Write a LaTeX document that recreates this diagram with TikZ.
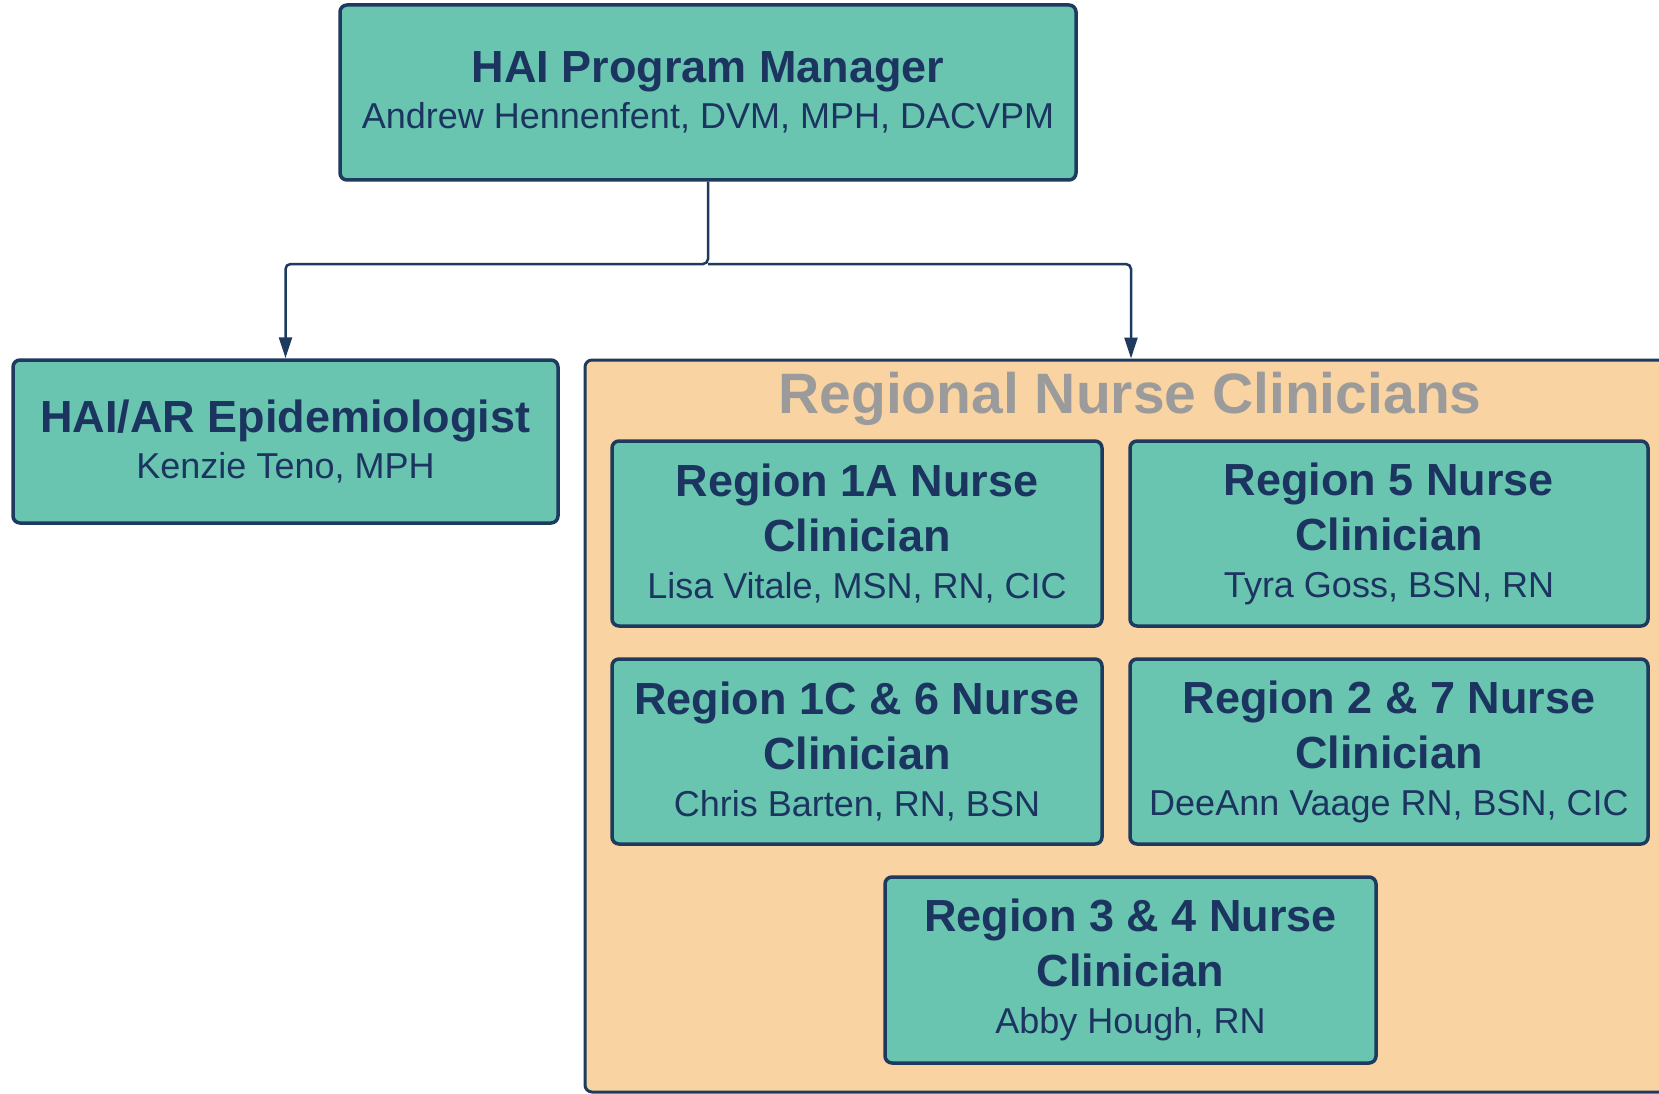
\documentclass[tikz,border=0pt]{standalone}
\usepackage{fontspec}
\setmainfont{Liberation Sans}
\usetikzlibrary{arrows.meta,positioning}

\definecolor{cardfill}{HTML}{69C5B0}
\definecolor{panelfill}{HTML}{F9D4A2}
\definecolor{edge}{HTML}{1E3A5F}
\definecolor{ink}{HTML}{1C3560}
\definecolor{titlegray}{HTML}{9B9B9B}

\tikzset{
  card/.style={draw=edge, fill=cardfill, line width=3.5pt, rounded corners=7pt,
    align=center, text=ink, inner sep=0pt, font=\fontsize{45}{55}\selectfont\bfseries},
  panel/.style={draw=edge, fill=panelfill, line width=3pt, rounded corners=7pt, inner sep=0pt},
  link/.style={draw=edge, line width=2.5pt, rounded corners=5pt,
    -{Triangle[length=21pt,width=13pt]}}
}
\newcommand{\who}[1]{{\fontsize{36}{44}\selectfont\mdseries #1}}

\begin{document}
\begin{tikzpicture}[x=1pt,y=-1pt]
  \useasboundingbox (0,0) rectangle (1659,1094);
  \clip (0,0) rectangle (1659,1094);
  \fill[white] (0,0) rectangle (1659,1094);

  % top and left
  \node[card, minimum width=736pt, minimum height=175pt] (mgr) at (708,92.5)
    {HAI Program Manager\\[-9pt]\who{Andrew Hennenfent, DVM, MPH, DACVPM}};
  \node[card, minimum width=545pt, minimum height=163pt] (epi) at (285.5,441.5)
    {HAI/AR Epidemiologist\\[-9pt]\who{Kenzie Teno, MPH}};

  % regional group
  \node[panel, minimum width=1092pt, minimum height=732pt] (rnc) at (1131,726) {};
  \node[anchor=base, text=titlegray, font=\fontsize{57}{60}\selectfont\bfseries]
    (rnctitle) at (1130,413) {Regional Nurse Clinicians};

  \node[card, minimum width=490pt, minimum height=185pt] (r1a) at (857,533.5)
    {Region 1A Nurse\\Clinician\\[-8pt]\who{Lisa Vitale, MSN, RN, CIC}};
  \node[card, minimum width=518pt, minimum height=185pt] (r5) at (1389,533.5)
    {Region 5 Nurse\\Clinician\\[-8pt]\who{Tyra Goss, BSN, RN}};
  \node[card, minimum width=490pt, minimum height=185pt] (r1c6) at (857,751.5)
    {Region 1C \& 6 Nurse\\Clinician\\[-8pt]\who{Chris Barten, RN, BSN}};
  \node[card, minimum width=518pt, minimum height=185pt] (r27) at (1389,751.5)
    {Region 2 \& 7 Nurse\\Clinician\\[-8pt]\who{DeeAnn Vaage RN, BSN, CIC}};
  \node[card, minimum width=491pt, minimum height=186pt] (r34) at (1130.5,970)
    {Region 3 \& 4 Nurse\\Clinician\\[-8pt]\who{Abby Hough, RN}};

  % connectors
  \coordinate (split) at (708,264);
  \draw[link] (mgr.south) -- (split) -| (epi.north);
  \draw[link] (split) -| (rnc.north);
\end{tikzpicture}
\end{document}
